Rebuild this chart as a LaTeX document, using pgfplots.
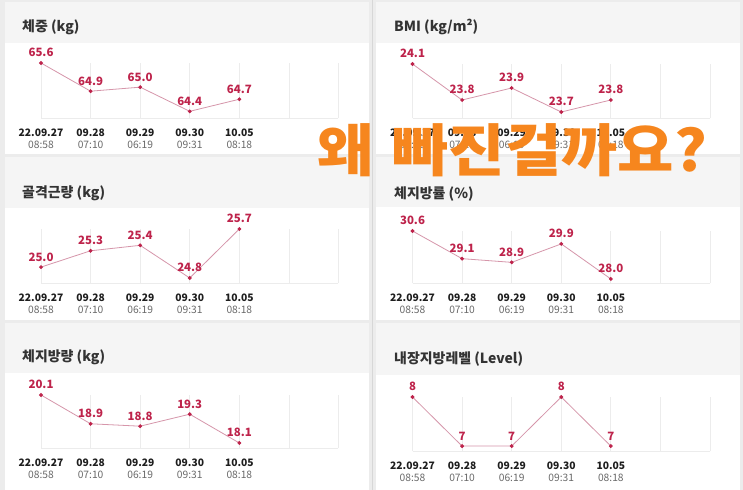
\documentclass[border=0pt]{standalone}
\usepackage{pgfplots}
\pgfplotsset{compat=1.18}
\usepackage{fontspec}
\setmainfont{Noto Sans CJK KR}
\newfontfamily\krblack{Noto Sans CJK KR Black}
\definecolor{valc}{RGB}{190,35,75}
\definecolor{linec}{RGB}{214,150,170}
\definecolor{gridc}{RGB}{236,236,236}
\definecolor{bgc}{RGB}{236,236,236}
\definecolor{hdc}{RGB}{245,245,245}
\definecolor{datec}{RGB}{30,30,30}
\definecolor{timec}{RGB}{105,105,105}
\definecolor{titc}{RGB}{51,51,51}
\definecolor{orng}{RGB}{246,134,30}
\definecolor{divc}{RGB}{215,215,215}

\pgfplotsset{panel/.style={
  scale only axis, width=297.5bp, anchor=north west, clip=false,
  xmin=0, xmax=6, xtick={0,...,6},
  xticklabels={{\textbf{22.09.27}\\\textcolor{timec}{08:58}},
               {\textbf{09.28}\\\textcolor{timec}{07:10}},
               {\textbf{09.29}\\\textcolor{timec}{06:19}},
               {\textbf{09.30}\\\textcolor{timec}{09:31}},
               {\textbf{10.05}\\\textcolor{timec}{08:18}},{},{}},
  xmajorgrids, grid style={draw=gridc, line width=0.7bp},
  ytick=\empty,
  axis x line*=bottom, axis y line=none,
  x axis line style={draw=gridc, line width=0.7bp, -},
  major tick length=0pt, tick style={draw=none},
  xticklabel style={font=\fontsize{10.3}{12}\selectfont, align=center, anchor=north,
                    inner sep=0pt, yshift=-11bp, text=datec},
  /pgf/number format/assume math mode=true,
  nodes near coords={\pgfmathprintnumber[fixed,fixed zerofill,precision=1]{\pgfplotspointmeta}},
  every node near coord/.append style={font=\bfseries\fontsize{11.5}{12}\selectfont,
        text=valc, anchor=south, inner sep=0pt, yshift=5.5bp},
}}
\pgfplotsset{ser/.style={draw=linec, line width=0.8bp, mark=*, mark size=1.5bp,
        mark options={fill=valc, draw=valc}}}

\begin{document}
\begin{tikzpicture}
\useasboundingbox (0,0) rectangle (743bp,-490bp);
\fill[bgc] (0,0) rectangle (743bp,-490bp);
% headers
\fill[hdc] (5bp,-2bp) rectangle (369bp,-43bp);
\fill[hdc] (5bp,-157bp) rectangle (369bp,-208bp);
\fill[hdc] (5bp,-323bp) rectangle (369bp,-373bp);
\fill[hdc] (376bp,-2bp) rectangle (740bp,-43bp);
\fill[hdc] (376bp,-157bp) rectangle (740bp,-207bp);
\fill[hdc] (376bp,-323bp) rectangle (740bp,-375bp);
% white chart areas
\fill[white] (5bp,-43bp) rectangle (369bp,-154bp);
\fill[white] (5bp,-208bp) rectangle (369bp,-320bp);
\fill[white] (5bp,-373bp) rectangle (369bp,-490bp);
\fill[white] (376bp,-43bp) rectangle (740bp,-154bp);
\fill[white] (376bp,-207bp) rectangle (740bp,-320bp);
\fill[white] (376bp,-375bp) rectangle (740bp,-490bp);
\draw[divc, line width=1.2bp] (372.5bp,0) -- (372.5bp,-490bp);

% titles
\tikzset{ttl/.style={anchor=west, inner sep=0pt, text=titc, font=\bfseries\fontsize{14}{16}\selectfont}}
\node[ttl] at (22bp,-27bp) {체중 (kg)};
\node[ttl] at (394bp,-27bp) {BMI (kg/m²)};
\node[ttl] at (22bp,-193bp) {골격근량 (kg)};
\node[ttl] at (394bp,-194bp) {체지방률 (\%)};
\node[ttl] at (22bp,-357bp) {체지방량 (kg)};
\node[ttl] at (394bp,-359bp) {내장지방레벨 (Level)};

% Panel 1: weight
\begin{axis}[panel, at={(41bp,-63bp)}, height=55bp, ymin=64.234, ymax=65.6]
\addplot[ser] coordinates {(0,65.6) (1,64.9) (2,65.0) (3,64.4) (4,64.7)};
\end{axis}
% Panel 2: BMI
\begin{axis}[panel, at={(412.5bp,-64bp)}, height=54bp, ymin=23.65, ymax=24.1]
\addplot[ser] coordinates {(0,24.1) (1,23.8) (2,23.9) (3,23.7) (4,23.8)};
\end{axis}
% Panel 3: skeletal muscle
\begin{axis}[panel, at={(41bp,-229bp)}, height=54bp, ymin=24.708, ymax=25.7]
\addplot[ser] coordinates {(0,25.0) (1,25.3) (2,25.4) (3,24.8) (4,25.7)};
\end{axis}
% Panel 4: body fat percentage
\begin{axis}[panel, at={(412.5bp,-231bp)}, height=52bp, ymin=27.78, ymax=30.6]
\addplot[ser] coordinates {(0,30.6) (1,29.1) (2,28.9) (3,29.9) (4,28.0)};
\end{axis}
% Panel 5: body fat mass
\begin{axis}[panel, at={(41bp,-395bp)}, height=53bp, ymin=17.89, ymax=20.1]
\addplot[ser] coordinates {(0,20.1) (1,18.9) (2,18.8) (3,19.3) (4,18.1)};
\end{axis}
% Panel 6: visceral fat level
\begin{axis}[panel, at={(412.5bp,-397bp)}, height=54bp, ymin=6.9, ymax=8,
  nodes near coords={\pgfmathprintnumber[fixed,precision=0]{\pgfplotspointmeta}}]
\addplot[ser] coordinates {(0,8) (1,7) (2,7) (3,8) (4,7)};
\end{axis}

% orange overlay text
\tikzset{org/.style={anchor=west, inner sep=0pt, text=orng, font=\krblack\fontsize{57}{60}\selectfont, xscale=1.08, yscale=1.0, transform shape}}
\node[org] at (317bp,-150bp) {왜};
\node[org] at (392bp,-150bp) {빠진걸까요?};
\end{tikzpicture}
\end{document}
